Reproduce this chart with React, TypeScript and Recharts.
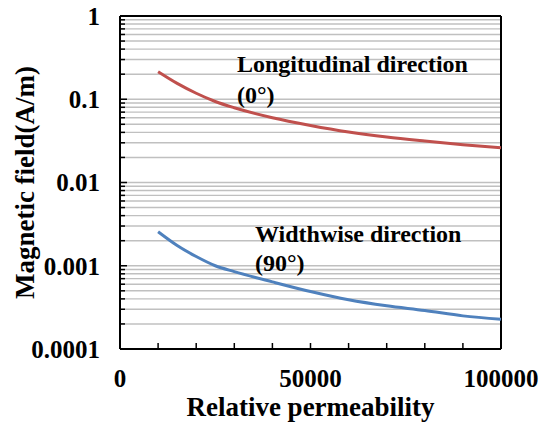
import { LineChart, Line, XAxis, YAxis, ReferenceLine, Label } from 'recharts';

const permeability = [10000, 15000, 20000, 25000, 30000, 40000, 50000, 60000, 70000, 80000, 90000, 100000];
const longitudinal = [0.214, 0.155, 0.118, 0.094, 0.079, 0.06, 0.0485, 0.0405, 0.0352, 0.0315, 0.0285, 0.0262];
const widthwise = [0.00256, 0.00175, 0.00129, 0.001, 0.00085, 0.00064, 0.00049, 0.00039, 0.00033, 0.00029, 0.00025, 0.000227];

const yMajor = [0.0001, 0.001, 0.01, 0.1, 1];
const xTicks = [0, 10000, 20000, 30000, 40000, 50000, 60000, 70000, 80000, 90000, 100000];
const xLabels = [0, 50000, 100000];

const data = permeability.map((p, i) => ({ p, lon: longitudinal[i], wid: widthwise[i] }));

// every 1..9 step of each decade, for the grid and the small ticks
const yTicks: number[] = [];
yMajor.slice(0, -1).forEach((d) => {
  for (let k = 1; k < 10; k++) yTicks.push(k === 1 ? d : +(k * d).toPrecision(3));
});
yTicks.push(1);

const font = 'Liberation Serif';

function YTick({ x, y, payload }: any) {
  const major = yMajor.includes(payload.value);
  return (
    <g>
      <line x1={x} x2={x + (major ? 7 : 5)} y1={y} y2={y} stroke="#000" strokeWidth={1.5} />
      {major && (
        <text x={x - 20} y={y} dy="0.35em" textAnchor="end" fontFamily={font} fontWeight="bold" fontSize={25} fill="#000">
          {String(payload.value)}
        </text>
      )}
    </g>
  );
}

function XTick({ x, y, payload }: any) {
  const shown = xLabels.includes(payload.value);
  return (
    <g>
      {payload.value > 0 && payload.value < 100000 && (
        <line x1={x} x2={x} y1={y} y2={y - 6} stroke="#000" strokeWidth={1.5} />
      )}
      {shown && (
        <text x={x} y={y + 29} dy="0.35em" textAnchor="middle" fontFamily={font} fontWeight="bold" fontSize={25} fill="#000">
          {String(payload.value)}
        </text>
      )}
    </g>
  );
}

export default function App() {
  return (
    <div style={{ position: 'absolute', left: 0, top: 0, width: 541, height: 430, background: '#fff' }}>
      <LineChart width={541} height={430} data={data} margin={{ top: 16, right: 40, bottom: 0, left: 0 }}>
        {yTicks.map((v) => (
          <ReferenceLine key={v} y={v} stroke="#c0c0c0" strokeWidth={1.4} />
        ))}
        <XAxis
          dataKey="p"
          type="number"
          domain={[0, 100000]}
          ticks={xTicks}
          interval={0}
          height={81}
          tickSize={0}
          tickMargin={0}
          tick={<XTick />}
          stroke="#000"
          strokeWidth={2}
        >
          <Label value="Relative permeability" position="insideBottom" offset={14} fontFamily={font} fontWeight="bold" fontSize={27} fill="#000" />
        </XAxis>
        <YAxis
          type="number"
          scale="log"
          domain={[0.0001, 1]}
          ticks={yTicks}
          interval={0}
          allowDataOverflow
          width={120}
          tickSize={0}
          tickMargin={0}
          tick={<YTick />}
          stroke="#000"
          strokeWidth={2}
        >
          <Label value="Magnetic field(A/m)" angle={-90} position="insideLeft" offset={24} fontFamily={font} fontWeight="bold" fontSize={27} fill="#000" style={{ textAnchor: 'middle' }} />
        </YAxis>
        <ReferenceLine y={1} stroke="#000" strokeWidth={2} />
        <ReferenceLine x={100000} stroke="#000" strokeWidth={2} />
        <Line dataKey="lon" type="monotone" stroke="#c0504d" strokeWidth={3} dot={false} isAnimationActive={false} />
        <Line dataKey="wid" type="monotone" stroke="#4f81bd" strokeWidth={3} dot={false} isAnimationActive={false} />
      </LineChart>
      <svg width={541} height={430} style={{ position: 'absolute', left: 0, top: 0, pointerEvents: 'none' }}>
        <g fontFamily={font} fontWeight="bold" fontSize={24} fill="#000">
          <text x={237} y={72}>Longitudinal direction</text>
          <text x={237} y={103}>(0°)</text>
          <text x={255} y={242}>Widthwise direction</text>
          <text x={255} y={271}>(90°)</text>
        </g>
      </svg>
    </div>
  );
}
